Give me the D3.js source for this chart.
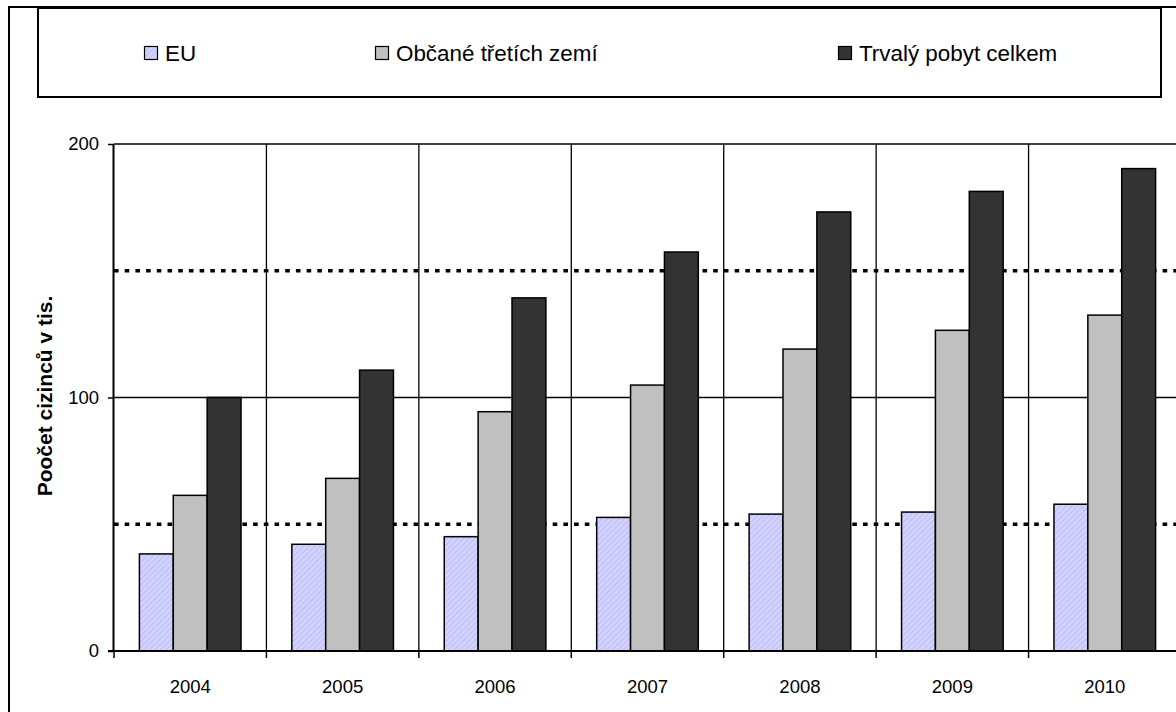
<!DOCTYPE html>
<html>
<head>
<meta charset="utf-8">
<script src="https://cdnjs.cloudflare.com/ajax/libs/d3/7.8.5/d3.min.js"></script>
<style>
  body { margin: 0; background: #fff; }
  svg { display: block; font-family: "Liberation Sans", Arial, sans-serif; }
</style>
</head>
<body>
<div id="chart"></div>
<script>
// data (thousands of foreigners)
const years = ["2004", "2005", "2006", "2007", "2008", "2009", "2010"];
const seriesNames = ["EU", "Občané třetích zemí", "Trvalý pobyt celkem"];
const euValues = [38.3, 42.1, 45.1, 52.7, 54.0, 54.8, 57.9];
const thirdValues = [61.4, 68.1, 94.4, 104.9, 119.1, 126.5, 132.5];
const totalValues = [100, 110.8, 139.3, 157.4, 173.2, 181.3, 190.3];
const majorTicks = [0, 100, 200];
const minorTicks = [50, 150];
const yTitle = "Poočet cizinců v tis.";

const W = 1176, H = 712;
const margin = { left: 114, top: 144, right: 1181, bottom: 651 };

let svg = d3.select("#chart").append("svg")
    .attr("width", W)
    .attr("height", H);

// hatch for the EU bars
let defs = svg.append("defs");
let pat = defs.append("pattern")
    .attr("id", "euHatch")
    .attr("patternUnits", "userSpaceOnUse")
    .attr("width", 4).attr("height", 4)
    .attr("patternTransform", "rotate(45)");
pat.append("rect").attr("width", 4).attr("height", 4).attr("fill", "#d2d2ff");
pat.append("line").attr("x1", 0).attr("y1", 0).attr("x2", 0).attr("y2", 4)
    .attr("stroke", "#b0b0ee").attr("stroke-width", 1.2);

const fills = ["url(#euHatch)", "#c0c0c0", "#333333"];

// outer chart frame (runs off the right and bottom edge)
svg.append("path")
    .attr("d", "M9," + (H + 5) + " L9,7 L" + (W + 5) + ",7")
    .attr("fill", "none").attr("stroke", "#000").attr("stroke-width", 2);

// legend box
svg.append("rect")
    .attr("x", 38).attr("y", 8).attr("width", 1123).attr("height", 89)
    .attr("fill", "#fff").attr("stroke", "#000").attr("stroke-width", 2);

const legendX = [144, 375, 838];
let legend = svg.append("g").attr("class", "legend");
seriesNames.forEach((name, i) => {
    let g = legend.append("g").attr("transform", "translate(" + legendX[i] + ",46)");
    g.append("rect").attr("x", 0.5).attr("y", 0.5).attr("width", 13).attr("height", 13)
        .attr("fill", fills[i]).attr("stroke", "#000").attr("stroke-width", 1.2);
    g.append("text").attr("x", 21).attr("y", 7).attr("dy", "0.36em")
        .style("font-size", "22.4px").attr("fill", "#000").text(name);
});

// scales
let x0 = d3.scaleBand().domain(years).range([margin.left, margin.right]).padding(0);
let step = x0.bandwidth();
let barW = step / 4.5;
let x1 = d3.scaleBand().domain(seriesNames)
    .range([barW * 0.75, step - barW * 0.75]).padding(0);
let y = d3.scaleLinear().domain([0, 200]).range([margin.bottom, margin.top]);

// gridlines
svg.append("g").selectAll("line.minor").data(minorTicks).join("line")
    .attr("class", "minor")
    .attr("x1", margin.left).attr("x2", margin.right)
    .attr("y1", d => y(d)).attr("y2", d => y(d))
    .attr("stroke", "#000").attr("stroke-width", 3.4)
    .attr("stroke-dasharray", "4.6,6.1");

svg.append("g").selectAll("line.major").data(majorTicks.filter(d => d > 0)).join("line")
    .attr("class", "major")
    .attr("x1", margin.left).attr("x2", margin.right)
    .attr("y1", d => y(d)).attr("y2", d => y(d))
    .attr("stroke", "#000").attr("stroke-width", 1.5);

svg.append("g").selectAll("line.vgrid").data(years.slice(1)).join("line")
    .attr("class", "vgrid")
    .attr("x1", d => x0(d)).attr("x2", d => x0(d))
    .attr("y1", margin.top).attr("y2", margin.bottom)
    .attr("stroke", "#000").attr("stroke-width", 1.3);

// bars
let rows = years.map((yr, i) => ({ year: yr, vals: [euValues[i], thirdValues[i], totalValues[i]] }));
let groups = svg.append("g").selectAll("g").data(rows).join("g")
    .attr("transform", d => "translate(" + x0(d.year) + ",0)");
groups.selectAll("rect").data(d => d.vals.map((v, k) => ({ key: seriesNames[k], v: v, k: k }))).join("rect")
    .attr("x", d => x1(d.key))
    .attr("y", d => y(d.v))
    .attr("width", x1.bandwidth())
    .attr("height", d => y(0) - y(d.v))
    .attr("fill", d => fills[d.k])
    .attr("stroke", "#000")
    .attr("stroke-width", 1.5);

// y axis
let yAxis = d3.axisLeft(y).tickValues(majorTicks).tickSize(6).tickPadding(9);
let gy = svg.append("g").attr("transform", "translate(" + margin.left + ",0)").call(yAxis);
gy.select(".domain").attr("stroke-width", 2).attr("d", "M-0.5," + margin.bottom + "V" + margin.top);
gy.selectAll(".tick line").attr("stroke-width", 1.5);
gy.selectAll("text").style("font-size", "18.5px").attr("fill", "#000").attr("font-family", null);

// x axis: labels at centres, ticks at category boundaries
let xAxis = d3.axisBottom(x0).tickSize(0).tickPadding(29);
let gx = svg.append("g").attr("transform", "translate(0," + margin.bottom + ")").call(xAxis);
gx.select(".domain").attr("stroke-width", 2).attr("d", "M" + (margin.left - 6) + ",0H" + margin.right);
gx.selectAll("text").style("font-size", "18.5px").attr("fill", "#000").attr("font-family", null);
gx.selectAll("line.bound").data(years).join("line")
    .attr("class", "bound")
    .attr("x1", d => x0(d)).attr("x2", d => x0(d))
    .attr("y1", 0).attr("y2", 7)
    .attr("stroke", "#000").attr("stroke-width", 1.5);

// y title
svg.append("text")
    .attr("transform", "translate(52," + 396 + ") rotate(-90)")
    .style("text-anchor", "middle")
    .style("font-size", "21px")
    .style("font-weight", "bold")
    .text(yTitle);
</script>
</body>
</html>
